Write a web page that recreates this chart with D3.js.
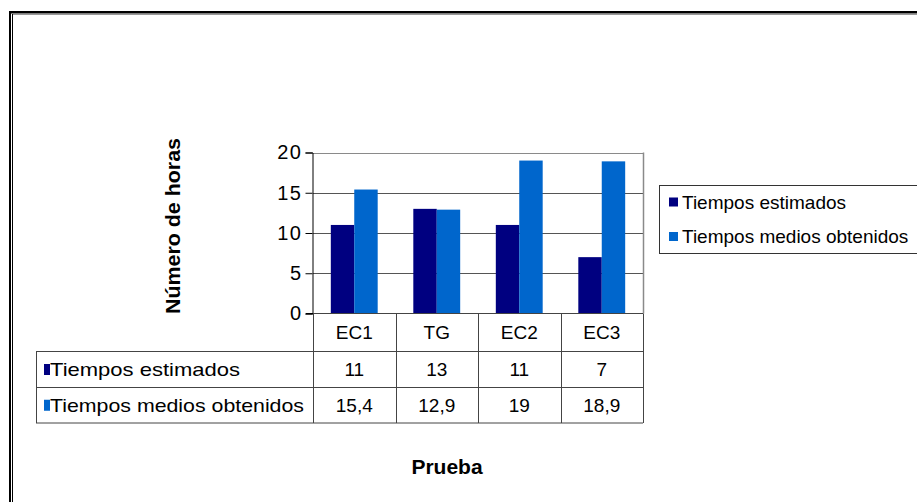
<!DOCTYPE html>
<html>
<head>
<meta charset="utf-8">
<script src="https://d3js.org/d3.v7.min.js"></script>
<style>
  html, body { margin: 0; padding: 0; background: #fff; }
  svg { display: block; font-family: "Liberation Sans", Arial, sans-serif; }
</style>
</head>
<body>
<svg id="chart" width="917" height="502"></svg>
<script>
// Categories, series and values
const categories = ["EC1", "TG", "EC2", "EC3"];
const seriesNames = ["Tiempos estimados", "Tiempos medios obtenidos"];
const estimados = [11, 13, 11, 7];
const obtenidos = [15.4, 12.9, 19, 18.9];
const estimadosLabels = ["11", "13", "11", "7"];
const obtenidosLabels = ["15,4", "12,9", "19", "18,9"];
const yTicks = [0, 5, 10, 15, 20];
const colors = ["#000080", "#0066CC"];

const svg = d3.select("#chart");

// Outer double frame (runs off the right and bottom edges)
svg.append("rect").attr("x", 9).attr("y", 11).attr("width", 920).attr("height", 2.5).attr("fill", "#000");
svg.append("rect").attr("x", 9).attr("y", 11).attr("width", 2).attr("height", 500).attr("fill", "#000");
svg.append("line").attr("x1", 12.5).attr("x2", 920).attr("y1", 14.5).attr("y2", 14.5).attr("stroke", "#999");
svg.append("line").attr("x1", 12.5).attr("x2", 12.5).attr("y1", 14).attr("y2", 502).attr("stroke", "#000");

// Scales
const plotL = 313, plotR = 643, plotT = 152.5, plotB = 313.5;
const x0 = d3.scaleBand().domain(categories).range([plotL, plotR]).padding(0);
const x1 = d3.scaleBand().domain(seriesNames).range([0, x0.bandwidth()]).paddingInner(0).paddingOuter(0.76);
const y = d3.scaleLinear().domain([0, 20]).range([plotB, plotT]);

// Gridlines
svg.append("g").selectAll("line").data(yTicks.filter(d => d > 0)).join("line")
  .attr("x1", plotL).attr("x2", plotR)
  .attr("y1", d => Math.round(y(d)) + 0.5).attr("y2", d => Math.round(y(d)) + 0.5)
  .attr("stroke", d => d === 20 ? "#8a8a8a" : "#555");
// Right border of plot area
svg.append("line").attr("x1", plotR + 0.5).attr("x2", plotR + 0.5).attr("y1", y(20)).attr("y2", plotB)
  .attr("stroke", "#8a8a8a").attr("stroke-width", 1.5);

// Bars
const rows = categories.map((c, i) => ({ cat: c, vals: [estimados[i], obtenidos[i]] }));
svg.append("g").selectAll("g").data(rows).join("g")
  .attr("transform", d => `translate(${x0(d.cat)},0)`)
  .selectAll("rect").data(d => d.vals.map((v, j) => ({ v, s: seriesNames[j], j }))).join("rect")
  .attr("x", d => x1(d.s))
  .attr("width", x1.bandwidth())
  .attr("y", d => y(d.v))
  .attr("height", d => y(0) - y(d.v))
  .attr("fill", d => colors[d.j]);

// Y axis
const yAxis = d3.axisLeft(y).tickValues(yTicks).tickSize(7).tickPadding(3).tickFormat(d3.format("d"));
const gy = svg.append("g").attr("transform", `translate(${plotL - 0.5},0)`).call(yAxis);
gy.select(".domain").attr("stroke", "#000");
gy.selectAll(".tick line").attr("stroke", "#000");
gy.selectAll(".tick text").attr("font-size", 20).attr("fill", "#000")
  .attr("font-family", "Liberation Sans, Arial, sans-serif")
  .attr("letter-spacing", 1.5);

// X axis baseline
svg.append("line").attr("x1", plotL - 7).attr("x2", plotR).attr("y1", plotB).attr("y2", plotB).attr("stroke", "#000");

// Data table
const tblL = 36, rowTop = [313.5, 351.5, 387.5, 423];
const tbl = svg.append("g").attr("stroke", "#444").attr("stroke-width", 1);
// horizontal rules
tbl.append("line").attr("x1", plotL).attr("x2", plotR).attr("y1", rowTop[0]).attr("y2", rowTop[0]);
[1, 2, 3].forEach(i => tbl.append("line").attr("x1", tblL).attr("x2", plotR)
  .attr("y1", rowTop[i]).attr("y2", rowTop[i]));
// vertical rules
const colEdges = categories.map(c => x0(c)).concat([plotR]);
tbl.selectAll("line.col").data(colEdges).join("line").attr("class", "col")
  .attr("x1", d => Math.round(d) + 0.5).attr("x2", d => Math.round(d) + 0.5)
  .attr("y1", rowTop[0]).attr("y2", rowTop[3]);
tbl.append("line").attr("x1", tblL + 0.5).attr("x2", tblL + 0.5).attr("y1", rowTop[1]).attr("y2", rowTop[3]);

// category header
svg.append("g").selectAll("text").data(categories).join("text")
  .attr("x", d => x0(d) + x0.bandwidth() / 2).attr("y", (rowTop[0] + rowTop[1]) / 2)
  .attr("text-anchor", "middle").attr("dominant-baseline", "central")
  .attr("font-size", 19).text(d => d);

// value rows
const tableRows = [estimadosLabels, obtenidosLabels];
const rowLabelWidths = [190, 254];
tableRows.forEach((labels, r) => {
  const cy = (rowTop[r + 1] + rowTop[r + 2]) / 2;
  svg.append("rect").attr("x", 44).attr("y", cy - 5.5).attr("width", 6).attr("height", 11).attr("fill", colors[r]);
  svg.append("text").attr("x", 50).attr("y", cy).attr("dominant-baseline", "central")
    .attr("font-size", 19).attr("textLength", rowLabelWidths[r]).attr("lengthAdjust", "spacingAndGlyphs")
    .text(seriesNames[r]);
  svg.append("g").selectAll("text").data(labels).join("text")
    .attr("x", (d, i) => x0(categories[i]) + x0.bandwidth() / 2).attr("y", cy)
    .attr("text-anchor", "middle").attr("dominant-baseline", "central")
    .attr("font-size", 19).text(d => d);
});

// Legend
svg.append("rect").attr("x", 659.5).attr("y", 185.5).attr("width", 270).attr("height", 68)
  .attr("fill", "none").attr("stroke", "#333");
seriesNames.forEach((s, i) => {
  const cy = 202 + i * 34.5;
  svg.append("rect").attr("x", 669).attr("y", cy - 4.5).attr("width", 9).attr("height", 9).attr("fill", colors[i]);
  svg.append("text").attr("x", 682).attr("y", cy).attr("dominant-baseline", "central")
    .attr("font-size", 19).text(s);
});

// Axis titles
svg.append("text").attr("transform", `translate(173,${226}) rotate(-90)`)
  .attr("text-anchor", "middle").attr("dominant-baseline", "central")
  .attr("font-size", 20).attr("font-weight", "bold")
  .attr("textLength", 176).attr("lengthAdjust", "spacingAndGlyphs").text("Número de horas");
svg.append("text").attr("x", 447).attr("y", 466).attr("text-anchor", "middle").attr("dominant-baseline", "central")
  .attr("font-size", 21).attr("font-weight", "bold").text("Prueba");
</script>
</body>
</html>
